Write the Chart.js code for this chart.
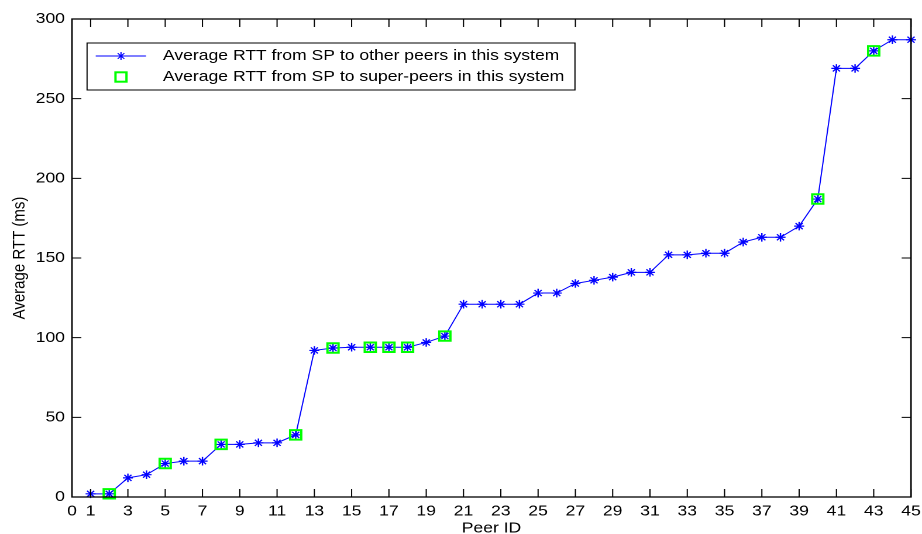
<!DOCTYPE html>
<html>
<head>
<meta charset="utf-8">
<script src="https://cdn.jsdelivr.net/npm/chart.js@4/dist/chart.umd.min.js"></script>
<style>
  html, body { margin: 0; padding: 0; background: #fff; overflow: hidden; }
  /* figure is laid out at 788px and widened to fill the 922px window */
  #wrap { width: 788px; height: 534px; transform: scaleX(1.170051); transform-origin: 0 0; }
</style>
</head>
<body>
<div id="wrap"><canvas id="c" width="788" height="534"></canvas></div>
<script>
// Peer IDs and their average RTT (ms) from the super-peer
const peerIds = [1, 2, 3, 4, 5, 6, 7, 8, 9, 10, 11, 12, 13, 14, 15, 16, 17, 18, 19, 20,
  21, 22, 23, 24, 25, 26, 27, 28, 29, 30, 31, 32, 33, 34, 35, 36, 37, 38, 39, 40,
  41, 42, 43, 44, 45];
const avgRtt = [2, 2, 12, 14, 21, 22.5, 22.5, 33, 33, 34, 34, 39,
  92, 93.5, 94, 94, 94, 94, 97, 101,
  121, 121, 121, 121,
  128, 128, 134, 136, 138, 141, 141,
  152, 152, 153, 153, 160, 163, 163, 170, 187,
  269, 269, 280, 287, 287];
// peers that are themselves super-peers
const superPeerIds = [2, 5, 8, 12, 14, 16, 17, 18, 20, 40, 43];

const xTickValues = [0, 1, 3, 5, 7, 9, 11, 13, 15, 17, 19, 21, 23, 25, 27, 29, 31, 33, 35, 37, 39, 41, 43, 45];
const yTickValues = [0, 50, 100, 150, 200, 250, 300];
const seriesLabels = [
  'Average RTT from SP to other peers in this system',
  'Average RTT from SP to super-peers in this system'
];
const xTitle = 'Peer ID';
const yTitle = 'Average RTT (ms)';

const FONT = "'Liberation Sans', Arial, Helvetica, sans-serif";
const BLUE = '#0000ff';
const GREEN = '#00ff00';

function starPath(ctx, cx, cy, r) {
  const d = r * Math.SQRT1_2;
  ctx.moveTo(cx - r, cy); ctx.lineTo(cx + r, cy);
  ctx.moveTo(cx, cy - r); ctx.lineTo(cx, cy + r);
  ctx.moveTo(cx - d, cy - d); ctx.lineTo(cx + d, cy + d);
  ctx.moveTo(cx - d, cy + d); ctx.lineTo(cx + d, cy - d);
}

// closed axes box with inward tick marks on all four sides
const boxTicks = {
  id: 'boxTicks',
  afterDatasetsDraw(chart) {
    const { ctx, chartArea: a, scales: { x, y } } = chart;
    const L = 8;
    ctx.save();
    ctx.strokeStyle = '#000';
    ctx.lineWidth = 1;
    ctx.beginPath();
    x.ticks.forEach(t => {
      const px = x.getPixelForValue(t.value);
      ctx.moveTo(px, a.bottom); ctx.lineTo(px, a.bottom - L);
      ctx.moveTo(px, a.top); ctx.lineTo(px, a.top + L);
    });
    y.ticks.forEach(t => {
      const py = y.getPixelForValue(t.value);
      ctx.moveTo(a.left, py); ctx.lineTo(a.left + L, py);
      ctx.moveTo(a.right, py); ctx.lineTo(a.right - L, py);
    });
    ctx.stroke();
    ctx.lineWidth = 1.3;
    ctx.strokeRect(a.left, a.top, a.right - a.left, a.bottom - a.top);
    ctx.restore();
  }
};

// boxed legend inside the upper-left of the plot
const boxLegend = {
  id: 'boxLegend',
  afterDraw(chart) {
    const ctx = chart.ctx;
    const bx = 74.4, by = 43, bw = 417, bh = 47;
    const rows = [56, 77];
    const symX = 103.4, lineX0 = 81.8, lineX1 = 124.8, textX = 139.3;
    ctx.save();
    ctx.fillStyle = '#fff';
    ctx.fillRect(bx, by, bw, bh);
    ctx.strokeStyle = '#000';
    ctx.lineWidth = 1;
    ctx.strokeRect(bx, by, bw, bh);

    ctx.strokeStyle = BLUE;
    ctx.lineWidth = 1;
    ctx.beginPath();
    ctx.moveTo(lineX0, rows[0]); ctx.lineTo(lineX1, rows[0]);
    starPath(ctx, symX, rows[0], 4);
    ctx.stroke();

    ctx.strokeStyle = GREEN;
    ctx.lineWidth = 2;
    ctx.strokeRect(symX - 4.7, rows[1] - 4.7, 9.4, 9.4);

    ctx.fillStyle = '#000';
    ctx.font = '15px ' + FONT;
    ctx.textAlign = 'left';
    ctx.textBaseline = 'middle';
    chart.data.datasets.forEach((ds, i) => ctx.fillText(ds.label, textX, rows[i]));
    ctx.restore();
  }
};

const rttOf = id => avgRtt[peerIds.indexOf(id)];

new Chart(document.getElementById('c'), {
  type: 'scatter',
  data: {
    datasets: [
      {
        label: seriesLabels[0],
        data: peerIds.map((id, i) => ({ x: id, y: avgRtt[i] })),
        showLine: true,
        borderColor: BLUE,
        borderWidth: 1,
        pointStyle: 'star',
        pointRadius: 4.3,
        pointBorderColor: BLUE,
        pointBorderWidth: 1.2,
        pointBackgroundColor: BLUE,
        clip: false,
        order: 1
      },
      {
        label: seriesLabels[1],
        data: superPeerIds.map(id => ({ x: id, y: rttOf(id) })),
        showLine: false,
        pointStyle: 'rect',
        pointRadius: 6.7,
        pointBorderColor: GREEN,
        pointBorderWidth: 2,
        pointBackgroundColor: 'rgba(0,0,0,0)',
        clip: false,
        order: 0
      }
    ]
  },
  options: {
    responsive: false,
    devicePixelRatio: 2,
    animation: false,
    events: [],
    layout: { padding: { top: 19, right: 9.4, left: 0, bottom: 0 } },
    plugins: { legend: { display: false }, tooltip: { enabled: false } },
    scales: {
      x: {
        type: 'linear',
        min: 0,
        max: 45,
        afterBuildTicks(s) { s.ticks = xTickValues.map(v => ({ value: v })); },
        afterFit(s) { s.height = 37; s.paddingLeft = 0; s.paddingRight = 0; },
        grid: { display: false, drawTicks: false },
        border: { display: false },
        ticks: { autoSkip: false, maxRotation: 0, padding: 5.5, color: '#000', font: { family: FONT, size: 15 } },
        title: { display: true, text: xTitle, color: '#000', font: { family: FONT, size: 15, lineHeight: 1 }, padding: { top: 0, bottom: -2 } }
      },
      y: {
        type: 'linear',
        min: 0,
        max: 300,
        afterBuildTicks(s) { s.ticks = yTickValues.map(v => ({ value: v })); },
        afterFit(s) { s.width = 61.5; s.paddingTop = 0; s.paddingBottom = 0; },
        grid: { display: false, drawTicks: false },
        border: { display: false },
        ticks: { padding: 6, color: '#000', font: { family: FONT, size: 15 } },
        title: { display: true, text: yTitle, color: '#000', font: { family: FONT, size: 15 }, padding: { top: 7.7, bottom: 0 } }
      }
    }
  },
  plugins: [boxTicks, boxLegend]
});
</script>
</body>
</html>
